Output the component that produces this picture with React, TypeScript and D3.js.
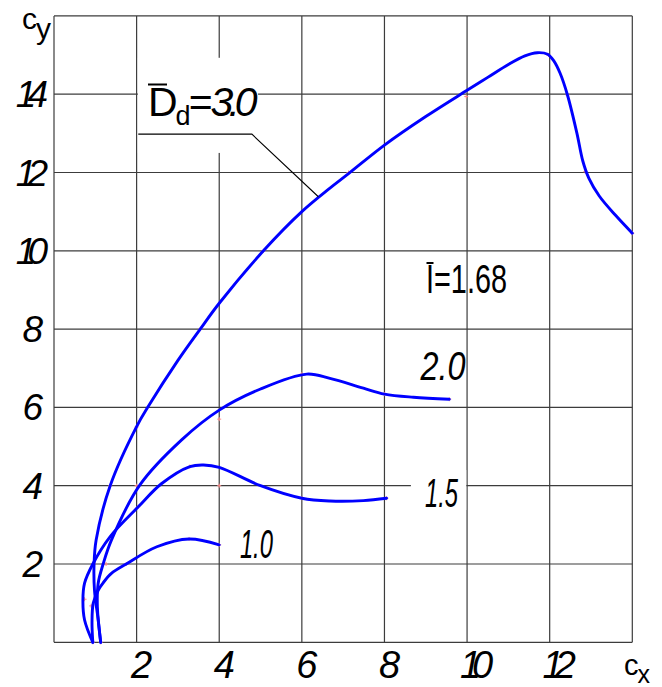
import React from "react";
import * as d3 from "d3";

// ---- data ----
const xGrid = [0, 2, 4, 6, 8, 10, 12, 14];
const yGrid = [0, 2, 4, 6, 8, 10, 12, 14, 16];
const xTickLabels = [2, 4, 6, 8, 10, 12];
const yTickLabels = [2, 4, 6, 8, 10, 12, 14];

const curve30: [number, number][] = [
  [1.13, 0], [1.07, 0.57], [0.98, 1.33], [0.97, 2.0], [1.02, 2.61], [1.36, 4.0], [2.0, 5.51],
  [2.28, 6.02], [3.0, 7.2], [3.54, 8.0], [4.0, 8.66], [5.07, 10.0], [6.0, 11.0], [6.68, 11.6],
  [7.13, 11.97], [8.0, 12.7], [9.0, 13.43], [10.0, 14.1], [10.5, 14.43], [11.0, 14.76],
  [11.4, 14.98], [11.7, 15.06], [11.95, 15.02], [12.1, 14.85], [12.25, 14.54], [12.43, 13.98],
  [12.66, 13.0], [12.8, 12.3], [12.95, 11.85], [13.2, 11.4], [13.6, 10.9], [14.0, 10.45],
];
const curve20: [number, number][] = [
  [1.13, 0], [1.05, 0.91], [1.07, 1.51], [1.19, 2.0], [1.39, 2.61], [2.08, 4.02], [3.09, 5.17],
  [4.0, 5.93], [5.0, 6.47], [6.12, 6.85], [6.68, 6.74], [7.49, 6.49], [8.0, 6.34], [8.7, 6.26],
  [9.57, 6.21],
];
const curve15: [number, number][] = [
  [0.94, 0], [0.74, 0.57], [0.7, 1.08], [0.74, 1.51], [0.94, 2.0], [1.36, 2.7], [2.04, 3.46],
  [2.6, 4.05], [3.29, 4.49], [3.62, 4.53], [4.0, 4.47], [5.0, 4.0], [6.0, 3.68], [6.68, 3.61],
  [7.49, 3.62], [8.05, 3.68],
];
const curve10: [number, number][] = [
  [0.94, 0], [0.92, 0.5], [0.95, 1.0], [1.07, 1.33], [1.19, 1.52], [1.39, 1.76], [1.75, 2.0],
  [2.49, 2.44], [3.27, 2.64], [4.0, 2.49],
];
const curves = [curve30, curve20, curve15, curve10];

const markers: [number, number][] = [
  [4, 5.7], [4, 4.0], [9.98, 13.94], [2.0, 5.5], [1.36, 4.0], [2.0, 4.0], [2.04, 3.46],
  [3.29, 4.49], [3.27, 2.64], [4.0, 2.49], [1.75, 2.0], [6, 6.85], [6, 3.68], [8, 6.34],
  [8.05, 3.68], [9.57, 6.21], [14, 10.45], [12.86, 12.02], [12.43, 13.98], [11.97, 15.0],
  [7.13, 12.0], [5.07, 10.0], [3.54, 8.0], [0.74, 1.1], [0.9, 0.93], [0.94, 0], [1.13, 0],
  [0.97, 2.0], [1.26, 2.0],
];

// annotations (data units)
const leader: [number, number][] = [[2.04, 12.98], [4.79, 12.98], [6.4, 11.38]];
const boxD = { x0: 2.03, x1: 4.94, y0: 12.5, y1: 14.93 };
const box15 = { x0: 8.64, x1: 9.98, y0: 3.38, y1: 4.4 };
const curveLabels = [
  { text: "2.0", x: 8.87, y: 6.69, w: 45 },
  { text: "1.5", x: 8.98, y: 3.45, w: 33 },
  { text: "1.0", x: 4.5, y: 2.15, w: 33 },
];

const W = 662;
const H = 687;
const FONT = "'Liberation Sans', Arial, sans-serif";

export default function App() {
  const x = d3.scaleLinear().domain([0, 14]).range([54, 632.3]);
  const y = d3.scaleLinear().domain([0, 16]).range([642.3, 15.9]);
  const line = d3
    .line<[number, number]>()
    .x((d) => x(d[0]))
    .y((d) => y(d[1]))
    .curve(d3.curveCatmullRom.alpha(0.5));
  const leaderLine = d3
    .line<[number, number]>()
    .x((d) => x(d[0]))
    .y((d) => y(d[1]));
  const gridColor = "#3c3c3c";

  return (
    <svg
      width={W}
      height={H}
      style={{ position: "absolute", left: 0, top: 0, background: "#fff" }}
    >
      <rect x={0} y={0} width={W} height={H} fill="#fff" />
      {/* grid */}
      {xGrid.map((v) => (
        <line key={"gx" + v} x1={x(v)} x2={x(v)} y1={y(0)} y2={y(16)} stroke={gridColor} strokeWidth={1.2} />
      ))}
      {yGrid.map((v) => (
        <line key={"gy" + v} x1={x(0)} x2={x(14)} y1={y(v)} y2={y(v)} stroke={gridColor} strokeWidth={1.2} />
      ))}
      {/* label boxes */}
      <rect x={x(boxD.x0)} y={y(boxD.y1)} width={x(boxD.x1) - x(boxD.x0)} height={y(boxD.y0) - y(boxD.y1)} fill="#fff" />
      <rect x={x(box15.x0)} y={y(box15.y1)} width={x(box15.x1) - x(box15.x0)} height={y(box15.y0) - y(box15.y1)} fill="#fff" />

      {/* markers */}
      {markers.map((m, i) => (
        <g key={"m" + i} stroke="#ff8a8a" strokeWidth={1}>
          <line x1={x(m[0]) - 2} x2={x(m[0]) + 2} y1={y(m[1])} y2={y(m[1])} />
          <line x1={x(m[0])} x2={x(m[0])} y1={y(m[1]) - 2} y2={y(m[1]) + 2} />
        </g>
      ))}

      {/* curves */}
      {curves.map((c, i) => (
        <path key={"c" + i} d={line(c) || ""} fill="none" stroke="#0000ff" strokeWidth={2.9} strokeLinejoin="round" strokeLinecap="round" />
      ))}

      {/* leader */}
      <path d={leaderLine(leader) || ""} fill="none" stroke="#000" strokeWidth={1.1} />

      {/* tick labels */}
      {yTickLabels.map((v) => (
        <text
          key={"yl" + v}
          x={v >= 10 ? 39 : 43}
          y={y(v) + 13}
          textAnchor="end"
          fontFamily={FONT}
          fontStyle="italic"
          fontSize={37}
          letterSpacing={v >= 10 ? -9 : 0}
          fill="#000"
        >
          {v}
        </text>
      ))}
      {xTickLabels.map((v) => (
        <text
          key={"xl" + v}
          x={x(v) + 5}
          y={678}
          textAnchor="middle"
          fontFamily={FONT}
          fontStyle="italic"
          fontSize={38}
          letterSpacing={v >= 10 ? -9 : 0}
          fill="#000"
        >
          {v}
        </text>
      ))}

      {/* axis titles */}
      <text x={22} y={29} fontFamily={FONT} fontSize={30} fill="#000">
        c<tspan dx={-1} dy={10}>y</tspan>
      </text>
      <text x={624} y={675} fontFamily={FONT} fontSize={29} fill="#000">
        c<tspan dx={-1} dy={8} fontSize={25}>x</tspan>
      </text>

      {/* D_d = 3.0 label */}
      <line x1={148} x2={167} y1={84.5} y2={84.5} stroke="#000" strokeWidth={2} />
      <text x={148} y={116} fontFamily={FONT} fontSize={41} fill="#000" letterSpacing={-2}>
        D<tspan dy={9} fontSize={27}>d</tspan>
        <tspan dy={-9}>=</tspan>
        <tspan fontStyle="italic" letterSpacing={-5}>3.0</tspan>
      </text>

      {/* I = 1.68 */}
      <line x1={426.5} x2={433.5} y1={263} y2={263} stroke="#000" strokeWidth={2} />
      <text x={426} y={293} fontFamily={FONT} fontSize={40} textLength={81} lengthAdjust="spacingAndGlyphs" fill="#000">
        I=1.68
      </text>

      {/* curve labels */}
      {curveLabels.map((l) => (
        <text
          key={l.text}
          x={x(l.x)}
          y={y(l.y)}
          fontFamily={FONT}
          fontStyle="italic"
          fontSize={40}
          textLength={l.w}
          lengthAdjust="spacingAndGlyphs"
          fill="#000"
        >
          {l.text}
        </text>
      ))}
    </svg>
  );
}
